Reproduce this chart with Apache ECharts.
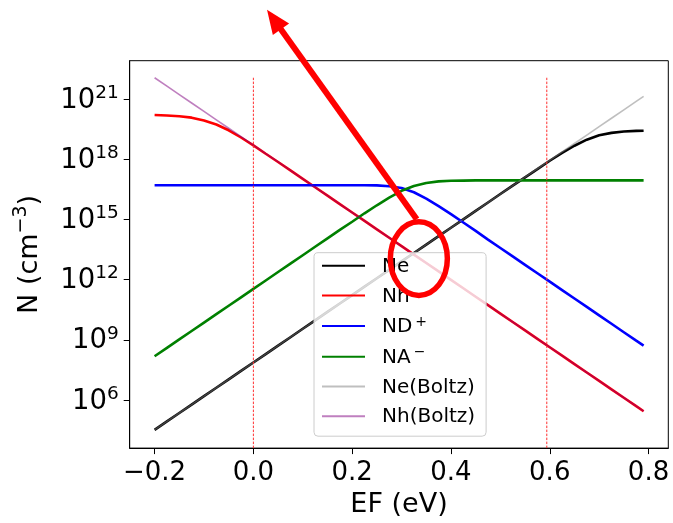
<!DOCTYPE html>
<html><head><meta charset="utf-8">
<script src="https://cdn.jsdelivr.net/npm/echarts@6/dist/echarts.min.js"></script>
<style>html,body{margin:0;padding:0;background:#fff}#c{width:673px;height:523px}</style>
</head><body><div id="c"></div>
<script>
// Fermi level EF (eV)
const efValues = [-0.2,-0.175,-0.15,-0.125,-0.1,-0.075,-0.05,-0.025,0,0.025,0.05,0.075,0.1,0.125,0.15,0.175,0.2,0.225,0.25,0.275,0.3,0.325,0.35,0.375,0.4,0.425,0.45,0.475,0.5,0.525,0.55,0.575,0.6,0.625,0.65,0.675,0.7,0.725,0.75,0.775,0.79];
// log10 of concentrations N (cm^-3)
const log10Ne = [4.51,4.93,5.35,5.77,6.19,6.61,7.03,7.45,7.87,8.29,8.71,9.13,9.55,9.97,10.39,10.81,11.23,11.65,12.07,12.49,12.91,13.33,13.75,14.17,14.59,15.01,15.43,15.85,16.27,16.69,17.10,17.51,17.93,18.32,18.68,18.98,19.20,19.32,19.39,19.42,19.43];
const log10Nh = [20.21,20.19,20.15,20.08,19.94,19.74,19.45,19.09,18.70,18.28,17.87,17.45,17.03,16.61,16.19,15.77,15.35,14.93,14.51,14.09,13.67,13.25,12.83,12.41,11.99,11.57,11.15,10.73,10.31,9.89,9.47,9.05,8.63,8.21,7.79,7.37,6.95,6.53,6.11,5.69,5.44];
const log10NDplus = [16.71,16.71,16.71,16.71,16.71,16.71,16.71,16.71,16.71,16.71,16.71,16.71,16.71,16.71,16.71,16.71,16.71,16.71,16.70,16.66,16.57,16.36,16.04,15.67,15.27,14.85,14.43,14.00,13.58,13.16,12.74,12.32,11.90,11.48,11.06,10.64,10.22,9.80,9.38,8.96,8.71];
const log10NAminus = [8.18,8.60,9.02,9.44,9.86,10.28,10.70,11.12,11.54,11.96,12.38,12.80,13.22,13.64,14.06,14.48,14.89,15.31,15.71,16.09,16.43,16.67,16.82,16.90,16.93,16.94,16.95,16.95,16.95,16.95,16.95,16.95,16.95,16.95,16.95,16.95,16.95,16.95,16.95,16.95,16.95];
const log10NeBoltz = [4.51,4.93,5.35,5.77,6.19,6.61,7.03,7.45,7.87,8.29,8.71,9.13,9.55,9.97,10.39,10.81,11.23,11.65,12.07,12.49,12.91,13.33,13.75,14.17,14.59,15.01,15.43,15.85,16.27,16.69,17.11,17.53,17.95,18.37,18.79,19.21,19.63,20.05,20.47,20.89,21.14];
const log10NhBoltz = [22.07,21.65,21.23,20.81,20.39,19.97,19.55,19.13,18.71,18.29,17.87,17.45,17.03,16.61,16.19,15.77,15.35,14.93,14.51,14.09,13.67,13.25,12.83,12.41,11.99,11.57,11.15,10.73,10.31,9.89,9.47,9.05,8.63,8.21,7.79,7.37,6.95,6.53,6.11,5.69,5.44];
const seriesNames = ['Ne','Nh','ND+','NA-','Ne(Boltz)','Nh(Boltz)'];
// dashed vertical markers
const vlineEF = [0.0, 0.594];
const vlineTopLog10 = 22.07;
// ticks
const xTicks = [-0.2, 0.0, 0.2, 0.4, 0.6, 0.8];
const yTickExponents = [6, 9, 12, 15, 18, 21];
// annotation (data coords: EF, log10 N)
const arrowTail = [0.3307, 15.01];
const arrowTip = [0.0276, 25.46];
const ellipseCenter = [0.335, 13.05];
const ellipseHalf = [0.0577, 1.835];

const X_MIN = -0.2504, X_MAX = 0.840, Y_MIN = 3.60, Y_MAX = 22.92;
const pairs = ys => efValues.map((x, i) => [x, ys[i]]);

const chart = echarts.init(document.getElementById('c'));
const lineSeries = (name, ys, color, width, opacity, z) => ({
  name, type: 'line', data: pairs(ys), symbol: 'none', showSymbol: false, smooth: false,
  lineStyle: {color, width, opacity}, itemStyle: {color}, z, silent: true
});
const legendLabel = {
  'Ne': '{g|}{b|Ne}', 'Nh': '{g|}{b|Nh}', 'ND+': '{g|}{b|ND}{p|}{s|+}', 'NA-': '{g|}{b|NA}{p|}{s|−}',
  'Ne(Boltz)': '{g|}{b|Ne(Boltz)}', 'Nh(Boltz)': '{g|}{b|Nh(Boltz)}'
};
const option = {
  animation: false,
  textStyle: {fontFamily: 'DejaVu Sans'},
  grid: {left: 129.7, right: 4.7, top: 60.7, bottom: 73, show: true, borderColor: '#000', borderWidth: 1},
  xAxis: {
    type: 'value', min: X_MIN, max: X_MAX,
    name: 'EF (eV)', nameLocation: 'middle', nameGap: 38,
    nameTextStyle: {fontSize: 27, color: '#000', fontFamily: 'DejaVu Sans'},
    axisLine: {show: true, onZero: false, lineStyle: {color: '#000', width: 1}},
    axisTick: {show: true, customValues: xTicks, length: 6, lineStyle: {color: '#000', width: 1}},
    axisLabel: {customValues: xTicks, fontSize: 26, color: '#000', margin: 12,
      formatter: v => (v < -1e-9 ? '−' : '') + Math.abs(v).toFixed(1)},
    splitLine: {show: false}
  },
  yAxis: {
    type: 'value', min: Y_MIN, max: Y_MAX,
    name: '{a|N (cm}{s|−3}{a|)}', nameLocation: 'middle', nameGap: 86,
    nameTextStyle: {color: '#000', rich: {
      a: {fontSize: 27, color: '#000', fontFamily: 'DejaVu Sans', lineHeight: 32, verticalAlign: 'bottom'},
      s: {fontSize: 19, color: '#000', fontFamily: 'DejaVu Sans', lineHeight: 19, verticalAlign: 'top'}}},
    axisLine: {show: true, onZero: false, lineStyle: {color: '#000', width: 1}},
    axisTick: {show: true, customValues: yTickExponents, length: 6, lineStyle: {color: '#000', width: 1}},
    axisLabel: {customValues: yTickExponents, margin: 11, color: '#000',
      formatter: v => '{b|10}{s|' + Math.round(v) + '}',
      rich: {
        b: {fontSize: 27.5, color: '#000', fontFamily: 'DejaVu Sans', lineHeight: 31, verticalAlign: 'bottom'},
        s: {fontSize: 18.5, color: '#000', fontFamily: 'DejaVu Sans', lineHeight: 18, verticalAlign: 'top'}
      }},
    splitLine: {show: false}
  },
  legend: {
    data: seriesNames, orient: 'vertical', left: 314, top: 252.7,
    padding: [3, 11, 9, 7], itemWidth: 43, itemHeight: 14, itemGap: 8.7,
    backgroundColor: 'rgba(255,255,255,0.8)', borderColor: '#cccccc', borderWidth: 1, borderRadius: 4,
    itemStyle: {opacity: 0}, selectedMode: false,
    formatter: n => legendLabel[n],
    textStyle: {color: '#000', fontSize: 20, rich: {
      g: {width: 12},
      p: {width: 3},
      b: {fontSize: 20, color: '#000', fontFamily: 'DejaVu Sans', lineHeight: 22, verticalAlign: 'bottom'},
      s: {fontSize: 14, color: '#000', fontFamily: 'DejaVu Sans', lineHeight: 14, verticalAlign: 'top'}
    }}
  },
  series: [
    lineSeries('Ne', log10Ne, '#000000', 2.6, 1, 2),
    lineSeries('Nh', log10Nh, '#ff0000', 2.6, 1, 2),
    lineSeries('ND+', log10NDplus, '#0000ff', 2.6, 1, 2),
    lineSeries('NA-', log10NAminus, '#008000', 2.6, 1, 2),
    lineSeries('Ne(Boltz)', log10NeBoltz, '#808080', 1.6, 0.5, 3),
    lineSeries('Nh(Boltz)', log10NhBoltz, '#800080', 1.6, 0.5, 3),
    ...vlineEF.map((x, i) => ({
      name: 'vline' + i, type: 'line', symbol: 'none', silent: true, z: 4,
      data: [[x, Y_MIN], [x, vlineTopLog10]],
      lineStyle: {color: '#ff3030', width: 1, type: [2.5, 1.5]}
    }))
  ]
};
chart.setOption(option);

// annotation: red arrow + ellipse, positioned in data coordinates
const P = p => chart.convertToPixel({gridIndex: 0}, p);
const tail = P(arrowTail), tip = P(arrowTip), c = P(ellipseCenter);
const ex = P([ellipseCenter[0] + ellipseHalf[0], ellipseCenter[1]]);
const ey = P([ellipseCenter[0], ellipseCenter[1] + ellipseHalf[1]]);
const dx = tip[0] - tail[0], dy = tip[1] - tail[1], L = Math.hypot(dx, dy);
const ux = dx / L, uy = dy / L, headLen = 24, headHalf = 10;
const bx = tip[0] - ux * headLen, by = tip[1] - uy * headLen;
chart.setOption({graphic: [
  {type: 'ellipse', z: 100, shape: {cx: c[0], cy: c[1], rx: Math.abs(ex[0] - c[0]), ry: Math.abs(ey[1] - c[1])},
   style: {fill: 'none', stroke: '#ff0000', lineWidth: 5.5}},
  {type: 'line', z: 100, shape: {x1: tail[0], y1: tail[1], x2: bx + ux * 2, y2: by + uy * 2},
   style: {stroke: '#ff0000', lineWidth: 6}},
  {type: 'polygon', z: 100, shape: {points: [tip, [bx - uy * headHalf, by + ux * headHalf], [bx + uy * headHalf, by - ux * headHalf]]},
   style: {fill: '#ff0000'}}
]});
</script></body></html>
